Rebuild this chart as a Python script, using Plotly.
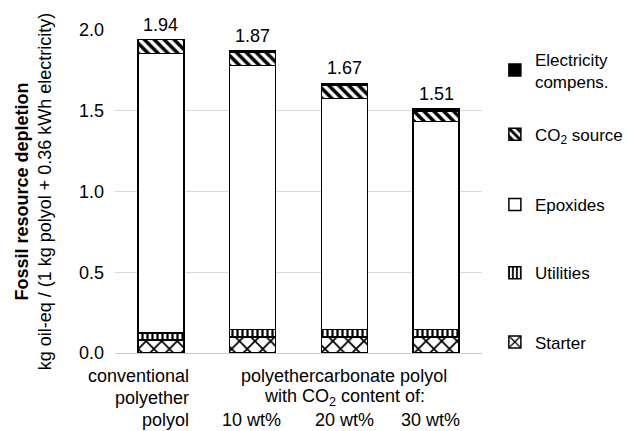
import plotly.graph_objects as go

categories = ["conventional", "PEC 10 wt%", "PEC 20 wt%", "PEC 30 wt%"]
starter = [0.080, 0.100, 0.100, 0.100]
utilities = [0.045, 0.045, 0.045, 0.045]
epoxides = [1.729, 1.635, 1.430, 1.290]
co2_source = [0.086, 0.085, 0.085, 0.060]
electricity = [0.000, 0.005, 0.010, 0.015]
totals = [1.94, 1.87, 1.67, 1.51]
yticks = [0.0, 0.5, 1.0, 1.5, 2.0]

FONT = "Liberation Sans, Arial, sans-serif"
FS = 18

series = [
    ("Starter", starter, dict(shape="x", size=11, solidity=0.3), "white", "legend5"),
    ("Utilities", utilities, dict(shape="|", size=5, solidity=0.45), "white", "legend4"),
    ("Epoxides", epoxides, dict(shape=""), "white", "legend3"),
    ("CO<sub>2</sub> source", co2_source, dict(shape="\\", size=7, solidity=0.5), "white", "legend2"),
    ("Electricity<br>compens.", electricity, dict(shape=""), "black", "legend"),
]

fig = go.Figure()
for name, vals, pat, color, leg in series:
    pattern = dict(pat)
    if pattern.get("shape"):
        pattern.update(fgcolor="black", bgcolor="white", fillmode="replace")
    fig.add_trace(go.Bar(
        x=categories, y=vals, name=name, legend=leg,
        marker=dict(color=color, pattern=pattern, line=dict(color="black", width=1.5)),
        width=0.5,
    ))

for c, t in zip(categories, totals):
    fig.add_annotation(x=c, y=t, text=f"{t:.2f}", showarrow=False, yanchor="bottom",
                       yshift=3, font=dict(family=FONT, size=FS, color="black"))

# category labels
def lab(x, y, text, xanchor="center", xshift=0):
    fig.add_annotation(x=x, y=y, xref="x", yref="paper", text=text, showarrow=False,
                       xanchor=xanchor, yanchor="middle", xshift=xshift, align="right",
                       font=dict(family=FONT, size=FS, color="black"))

ys = [-0.071, -0.139, -0.206]
lab(categories[0], ys[0], "conventional", "right", 30)
lab(categories[0], ys[1], "polyether", "right", 30)
lab(categories[0], ys[2], "polyol", "right", 30)
lab(categories[2], ys[0], "polyethercarbonate polyol")
lab(categories[2], ys[1], "with CO<sub>2</sub> content of:")
lab(categories[1], ys[2], "10 wt%", xshift=-1)
lab(categories[2], ys[2], "20 wt%")
lab(categories[3], ys[2], "30 wt%", xshift=-6)

leg_base = dict(x=0.779, xref="container", xanchor="left", yanchor="middle",
                bgcolor="rgba(0,0,0,0)",
                font=dict(family=FONT, size=17, color="black"), borderwidth=0)
legend_y = {"legend": 0.875, "legend2": 0.676, "legend3": 0.458, "legend4": 0.247, "legend5": 0.033}
legs = {k: dict(leg_base, y=v) for k, v in legend_y.items()}

# page body has an 8px default margin, so the figure is drawn 8px in from the corner
fig.update_layout(
    width=625, height=423,
    margin=dict(l=107, r=151, t=18, b=78),
    paper_bgcolor="white", plot_bgcolor="white",
    barmode="stack", bargap=0.5,
    font=dict(family=FONT, size=FS, color="black"),
    showlegend=True,
    **legs,
)
fig.update_xaxes(showticklabels=False, showgrid=False, showline=False, zeroline=False,
                 range=[-0.5, 3.5])
fig.update_yaxes(range=[0, 2.0], tickvals=yticks, tickformat=".1f",
                 showgrid=True, gridcolor="#d9d9d9", gridwidth=1,
                 zeroline=True, zerolinecolor="#c8c8c8", zerolinewidth=1,
                 showline=False, ticks="", ticklabelstandoff=10,
                 tickfont=dict(family=FONT, size=FS, color="black"),
                 title=dict(text="<b>Fossil resource depletion</b><br>kg oil-eq / (1 kg polyol + 0.36 kWh electricity)",
                            standoff=22, font=dict(family=FONT, size=FS, color="black")))

fig.write_html("out.html")
